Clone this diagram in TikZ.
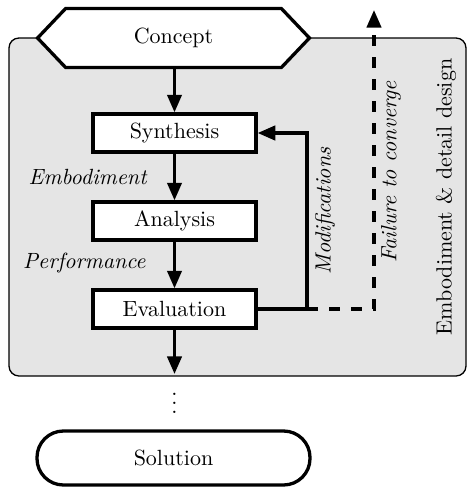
\documentclass[tikz,border=0pt]{standalone}
\usetikzlibrary{arrows.meta}
\begin{document}
\begin{tikzpicture}[x=0.4545pt,y=-0.4545pt,
  box/.style={draw,line width=1.5pt,fill=white,minimum width={163*0.4545pt},minimum height={38*0.4545pt},inner sep=0pt},
  flow/.style={line width=1.5pt,-{Triangle[length=8pt,width=6.5pt]}},
  lbl/.style={font=\itshape,inner sep=0pt},
  bg/.style={draw=black,line width=0.6pt,fill=black!10,rounded corners=4.5pt}]
\useasboundingbox (0,0) rectangle (467,488);
% background region
\draw[bg] (9,38) rectangle (466,376);
% concept
\node[minimum width={215*0.4545pt},minimum height={58*0.4545pt},inner sep=0pt] (concept) at (173.5,38) {};
\draw[line width=1.5pt,fill=white] (concept.north west) -- (concept.north east) -- ([xshift={28*0.4545pt}]concept.east) -- (concept.south east) -- (concept.south west) -- ([xshift={-28*0.4545pt}]concept.west) -- cycle;
\node at (concept) {Concept};
% boxes
\node[box] (synth) at (174.5,133) {Synthesis};
\node[box] (anal) at (174.5,221) {Analysis};
\node[box] (eval) at (174.5,309) {Evaluation};
% solution
\node[draw,line width=1.5pt,fill=white,rounded corners=12pt,minimum width={273*0.4545pt},minimum height={54*0.4545pt},inner sep=0pt] (sol) at (173.5,458) {Solution};
% coordinates
\coordinate (split) at (307,309);
\coordinate (fail) at (374,10);
\coordinate (bend) at (307,133);
\coordinate (down) at (174.5,374);
% arrows
\draw[flow] (concept.south -| synth.north) -- (synth.north);
\draw[flow] (synth) -- (anal);
\draw[flow] (anal) -- (eval);
\draw[flow] (eval.south) -- (down);
\draw[flow] (eval.east) -- (split) -- (bend) -- (synth.east);
\draw[line width=1.5pt,dash pattern=on 5pt off 5pt,-{Triangle[length=8pt,width=6.5pt]}] (split) -| (fail);
% labels
\node[lbl,anchor=east] (emb) at (147,177) {Embodiment};
\node[lbl,anchor=east] (perf) at (146,263) {Performance};
\node[lbl,rotate=90] (mod) at (325,211) {Modifications};
\node[lbl,rotate=90] (ftc) at (391,172) {Failure to converge};
\node[rotate=90,inner sep=0pt] (edd) at (446,197) {Embodiment \& detail design};
\node (dots) at (174.5,397) {$\vdots$};
\end{tikzpicture}
\end{document}
